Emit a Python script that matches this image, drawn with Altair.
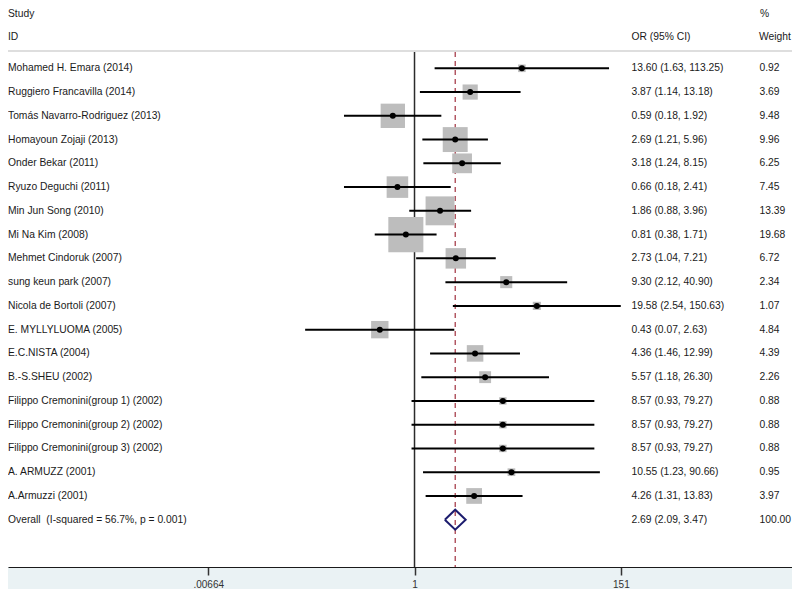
import altair as alt
import pandas as pd

studies = [
    "Mohamed H. Emara (2014)",
    "Ruggiero Francavilla (2014)",
    "Tomás Navarro-Rodriguez (2013)",
    "Homayoun Zojaji (2013)",
    "Onder Bekar (2011)",
    "Ryuzo Deguchi (2011)",
    "Min Jun Song (2010)",
    "Mi Na Kim (2008)",
    "Mehmet Cindoruk (2007)",
    "sung keun park (2007)",
    "Nicola de Bortoli (2007)",
    "E. MYLLYLUOMA (2005)",
    "E.C.NISTA (2004)",
    "B.-S.SHEU (2002)",
    "Filippo Cremonini(group 1) (2002)",
    "Filippo Cremonini(group 2) (2002)",
    "Filippo Cremonini(group 3) (2002)",
    "A. ARMUZZ (2001)",
    "A.Armuzzi (2001)",
]
odds = [13.60, 3.87, 0.59, 2.69, 3.18, 0.66, 1.86, 0.81, 2.73, 9.30,
        19.58, 0.43, 4.36, 5.57, 8.57, 8.57, 8.57, 10.55, 4.26]
lower = [1.63, 1.14, 0.18, 1.21, 1.24, 0.18, 0.88, 0.38, 1.04, 2.12,
         2.54, 0.07, 1.46, 1.18, 0.93, 0.93, 0.93, 1.23, 1.31]
upper = [113.25, 13.18, 1.92, 5.96, 8.15, 2.41, 3.96, 1.71, 7.21, 40.90,
         150.63, 2.63, 12.99, 26.30, 79.27, 79.27, 79.27, 90.66, 13.83]
weights = [0.92, 3.69, 9.48, 9.96, 6.25, 7.45, 13.39, 19.68, 6.72, 2.34,
           1.07, 4.84, 4.39, 2.26, 0.88, 0.88, 0.88, 0.95, 3.97]

overall_label = "Overall\u00a0 (I-squared = 56.7%, p = 0.001)"
overall_or = 2.69
overall_lo = 2.09
overall_hi = 3.47
overall_weight = 100.00

tick_values = [0.00664, 1, 151]
tick_labels = [".00664", "1", "151"]

n = len(studies)
df = pd.DataFrame({
    "study": studies,
    "x": odds,
    "lo": lower,
    "hi": upper,
    "weight": weights,
    "row": list(range(n)),
})
df["ci"] = [f"{e:.2f} ({l:.2f}, {h:.2f})" for e, l, h in zip(odds, lower, upper)]
df["wt"] = [f"{w:.2f}" for w in weights]

ov_row = n
ov_text = pd.DataFrame({
    "study": [overall_label],
    "ci": [f"{overall_or:.2f} ({overall_lo:.2f}, {overall_hi:.2f})"],
    "wt": [f"{overall_weight:.2f}"],
    "row": [ov_row],
})
text_df = pd.concat([df[["study", "ci", "wt", "row"]], ov_text], ignore_index=True)

half = 0.42
diamond = pd.DataFrame({
    "x": [overall_lo, overall_or, overall_hi, overall_or, overall_lo],
    "row": [ov_row, ov_row - half, ov_row, ov_row + half, ov_row],
    "ord": [0, 1, 2, 3, 4],
})

W, H = 784, 559
FONT = "Liberation Sans"
FS = 10.3

label_map = " : ".join(
    f"datum.value == {v} ? '{t}'" for v, t in zip(tick_values, tick_labels)
) + " : ''"

xscale = alt.Scale(type="log", domain=[10 ** -4.2925, 10 ** 3.986],
                   nice=False, zero=False)
yscale = alt.Scale(domain=[-2.538, 20.99], reverse=True, nice=False, zero=False)
xaxis = alt.Axis(values=tick_values, labelExpr=label_map, title=None, grid=False,
                 domainColor="#1a1a1a", domainWidth=1, tickColor="#333333",
                 tickWidth=1.5, tickSize=8, labelPadding=9, labelBaseline="middle",
                 labelFont=FONT, labelFontSize=10, labelColor="#333333",
                 labelFlush=False, labelOverlap=False)

X = lambda f: alt.X(f"{f}:Q", scale=xscale, axis=xaxis)
Y = alt.Y("row:Q", scale=yscale, axis=None)

sep = alt.Chart(pd.DataFrame({"k": [0]})).mark_rule(
    color="#BDBDBD", strokeWidth=1.2
).encode(x=alt.value(0), x2=alt.value(W), y=alt.value(43))

null_line = alt.Chart(pd.DataFrame({"x": [1]})).mark_rule(
    color="#2b2b2b", strokeWidth=1.5
).encode(x=X("x"), y=alt.value(44), y2=alt.value(H))

ov_line = alt.Chart(pd.DataFrame({"x": [overall_or]})).mark_rule(
    color="#A0303E", strokeWidth=1.2, strokeDash=[5, 4]
).encode(x=X("x"), y=alt.value(44), y2=alt.value(H))

squares = alt.Chart(df).mark_square(color="#BDBDBD", opacity=1).encode(
    x=X("x"), y=Y,
    size=alt.Size("weight:Q", scale=alt.Scale(domain=[0, 20], range=[0, 1248]),
                  legend=None),
)

ci = alt.Chart(df).mark_rule(color="black", strokeWidth=2).encode(
    x=X("lo"), x2="hi:Q", y=Y
)

pts = alt.Chart(df).mark_point(filled=True, color="black", size=36, opacity=1).encode(
    x=X("x"), y=Y
)

dia = alt.Chart(diamond).mark_line(color="#1C1C6E", strokeWidth=2).encode(
    x=X("x"), y=Y, order=alt.Order("ord:Q")
)

txt_kw = dict(align="left", baseline="middle", font=FONT, fontSize=FS, color="#1a1a1a")
t_study = alt.Chart(text_df).mark_text(**txt_kw).encode(x=alt.value(0), y=Y, text="study:N")
t_ci = alt.Chart(text_df).mark_text(**txt_kw).encode(x=alt.value(623.5), y=Y, text="ci:N")
t_wt = alt.Chart(text_df).mark_text(**txt_kw).encode(x=alt.value(751.5), y=Y, text="wt:N")

headers = pd.DataFrame({
    "label": ["Study", "ID", "OR (95% CI)", "%", "Weight"],
    "px": [0, 0, 623.5, 752, 751],
    "py": [6, 29.3, 29.3, 5.5, 29.3],
})
t_head = alt.Chart(headers).mark_text(**txt_kw).encode(
    x=alt.X("px:Q", scale=None), y=alt.Y("py:Q", scale=None), text="label:N"
)

chart = alt.layer(
    sep, null_line, ov_line, squares, ci, pts, dia, t_study, t_ci, t_wt, t_head
).properties(
    width=W, height=H,
    autosize=alt.AutoSizeParams(type="none"),
    padding={"left": 0, "top": 0, "right": 0, "bottom": 22},
    background="#EAF2F4",
).configure_view(fill="white", stroke=None)

chart.save("out.html", embed_options={"renderer": "svg", "actions": False})
